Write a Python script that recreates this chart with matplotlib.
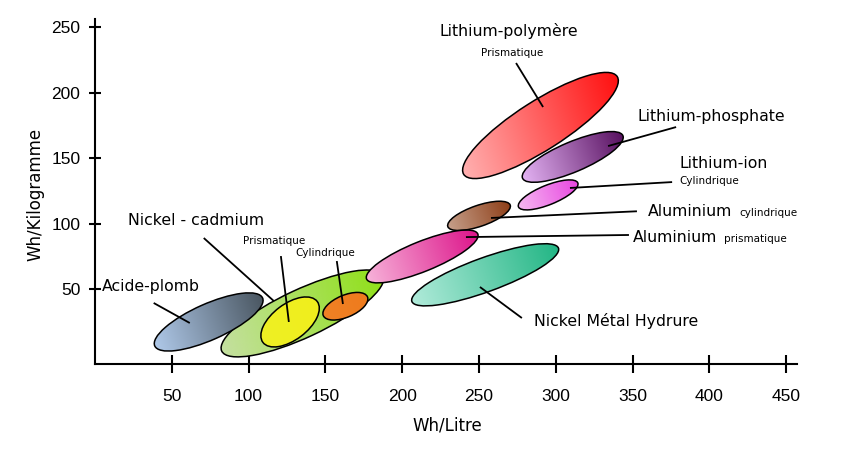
import numpy as np
import matplotlib
matplotlib.use('Agg')
import matplotlib.pyplot as plt
from matplotlib.patches import Ellipse
from matplotlib.transforms import Affine2D, ScaledTranslation
from matplotlib.colors import to_rgb

# ---------------- data (Wh/Litre, Wh/Kilogramme centres of each family) -------------
families = ['Nickel-cadmium', 'NiCd prismatique', 'NiCd cylindrique', 'Acide-plomb',
            'Aluminium cylindrique', 'Aluminium prismatique', 'Nickel Métal Hydrure',
            'Lithium-polymère', 'Lithium-phosphate', 'Lithium-ion cylindrique']
wh_litre = [135, 127, 163, 74, 250, 213, 254, 290, 311, 295]
wh_kg = [31.5, 25, 37, 25, 106, 75, 61, 175, 151, 122]

x_ticks = [50, 100, 150, 200, 250, 300, 350, 400, 450]
y_ticks = [50, 100, 150, 200, 250]

# ---------------- style: ellipse shapes in pixels (width, height, angle) ----------------
shapes = [(178, 48, 25), (68, 36, 37), (48, 22, 23), (118, 36, 24),
          (66, 21, 19), (120, 30, 22), (156, 34, 20),
          (182, 49, 32.5), (109, 30, 23), (64, 19.5, 22)]
grad_colors = [('#c6e0a4', '#8ee014'), ('#eef025', '#f0ee1c'), ('#f08226', '#ee7a1c'),
               ('#b3cdee', '#46525c'), ('#c8a490', '#8a3810'), ('#f8b8dc', '#dc1088'),
               ('#b4ecdc', '#1eb482'), ('#ffb4b4', '#ff0c0c'), ('#e8b8f8', '#520a5a'),
               ('#f6bff2', '#e840e0')]

fig = plt.figure(figsize=(8.5, 4.5), dpi=100)
ax = fig.add_axes([95 / 850, 86 / 450, (797 - 95) / 850, (364 - 19) / 450])
ax.set_xlim(0, 457)
ax.set_ylim(-7.1, 256.3)

px = Affine2D().scale(1 / 100.0) + fig.dpi_scale_trans

for i, (cx, cy, (w, h, ang), (c1, c2)) in enumerate(zip(wh_litre, wh_kg, shapes, grad_colors)):
    trans = px + ScaledTranslation(cx, cy, ax.transData)
    a, b, th = w / 2, h / 2, np.radians(ang)
    hw = np.sqrt((a * np.cos(th)) ** 2 + (b * np.sin(th)) ** 2) + 2
    hh = np.sqrt((a * np.sin(th)) ** 2 + (b * np.cos(th)) ** 2) + 2
    # gradient running from lower-left (light) to upper-right (dark)
    gx = np.linspace(-hw, hw, 200)
    gy = np.linspace(-hh, hh, 80)
    GX, GY = np.meshgrid(gx, gy)
    proj = GX + 0.35 * GY
    t = (proj - proj.min()) / (proj.max() - proj.min())
    img = (np.array(to_rgb(c1))[None, None, :] * (1 - t[..., None])
           + np.array(to_rgb(c2))[None, None, :] * t[..., None])
    z = 2 + i
    im = ax.imshow(img, extent=(-hw, hw, -hh, hh), transform=trans, aspect='auto',
                   interpolation='bilinear', origin='lower', zorder=z)
    ell = Ellipse((0, 0), w, h, angle=ang, transform=trans, facecolor='none',
                  edgecolor='black', lw=1.1, zorder=z + 0.5)
    ax.add_patch(ell)
    im.set_clip_path(ell)

ax.set_xlim(0, 457)
ax.set_ylim(-7.1, 256.3)

# ---------------- axes styling ----------------
for s in ['top', 'right']:
    ax.spines[s].set_visible(False)
for s in ['left', 'bottom']:
    ax.spines[s].set_linewidth(1.5)
ax.patch.set_visible(False)

ax.set_xticks(x_ticks)
ax.set_yticks(y_ticks)
ax.tick_params(axis='x', direction='inout', length=13.5, width=1.5, pad=11.5)
ax.tick_params(axis='y', direction='inout', length=8, width=1.5, pad=6.5)
for lab in ax.get_xticklabels() + ax.get_yticklabels():
    lab.set_family('Liberation Sans')
    lab.set_fontsize(12.5)

fig.text(447 / 850, 1 - 425 / 450, 'Wh/Litre', ha='center', va='center', fontsize=12)
fig.text(35 / 850, 1 - 194 / 450, 'Wh/Kilogramme', ha='center', va='center',
         rotation=90, fontsize=12)

# ---------------- labels and leader lines (layout, data coordinates) ----------------
big, small = 11.3, 7.5
labels = [
    ('Lithium-polymère', 269.5, 247.0, big, 'center'),
    ('Prismatique', 271.4, 230.3, small, 'center'),
    ('Lithium-phosphate', 401.1, 182.2, big, 'center'),
    ('Lithium-ion', 409.3, 145.6, big, 'center'),
    ('Cylindrique', 380.3, 132.6, small, 'left'),
    ('Nickel Métal Hydrure', 339.0, 25.7, big, 'center'),
    ('Nickel - cadmium', 65.7, 102.1, big, 'center'),
    ('Acide-plomb', 36.3, 51.7, big, 'center'),
    ('Prismatique', 116.4, 86.8, small, 'center'),
    ('Cylindrique', 149.6, 77.6, small, 'center'),
]
for txt, x, y, fs, ha in labels:
    ax.text(x, y, txt, fontsize=fs, ha=ha, va='center', zorder=30)

for txt, sub, x, y in [('Aluminium', 'cylindrique', 360.0, 109.7),
                       ('Aluminium', 'prismatique', 350.3, 89.8)]:
    t_big = ax.text(x, y, txt, fontsize=big, ha='left', va='center', zorder=30)
    ax.annotate(sub, xy=(1, 0), xycoords=t_big, xytext=(5, 0.5),
                textcoords='offset points', ha='left', va='bottom',
                fontsize=small, zorder=30)

leaders = [
    ((274.1, 222.7), (291.7, 189.1)),
    ((378.3, 173.8), (334.0, 159.3)),
    ((375.7, 131.8), (309.2, 127.3)),
    ((352.8, 109.5), (257.8, 104.4)),
    ((347.6, 91.4), (241.5, 89.8)),
    ((277.9, 28.0), (250.6, 51.7)),
    ((70.8, 89.1), (116.4, 41.0)),
    ((38.2, 39.5), (61.7, 24.2)),
    ((121.0, 75.3), (126.2, 25.0)),
    ((157.4, 71.5), (161.4, 38.7)),
]
for (x1, y1), (x2, y2) in leaders:
    ax.plot([x1, x2], [y1, y2], color='black', lw=1.3, zorder=25,
            solid_capstyle='butt')

fig.savefig('out.png', dpi=100)
